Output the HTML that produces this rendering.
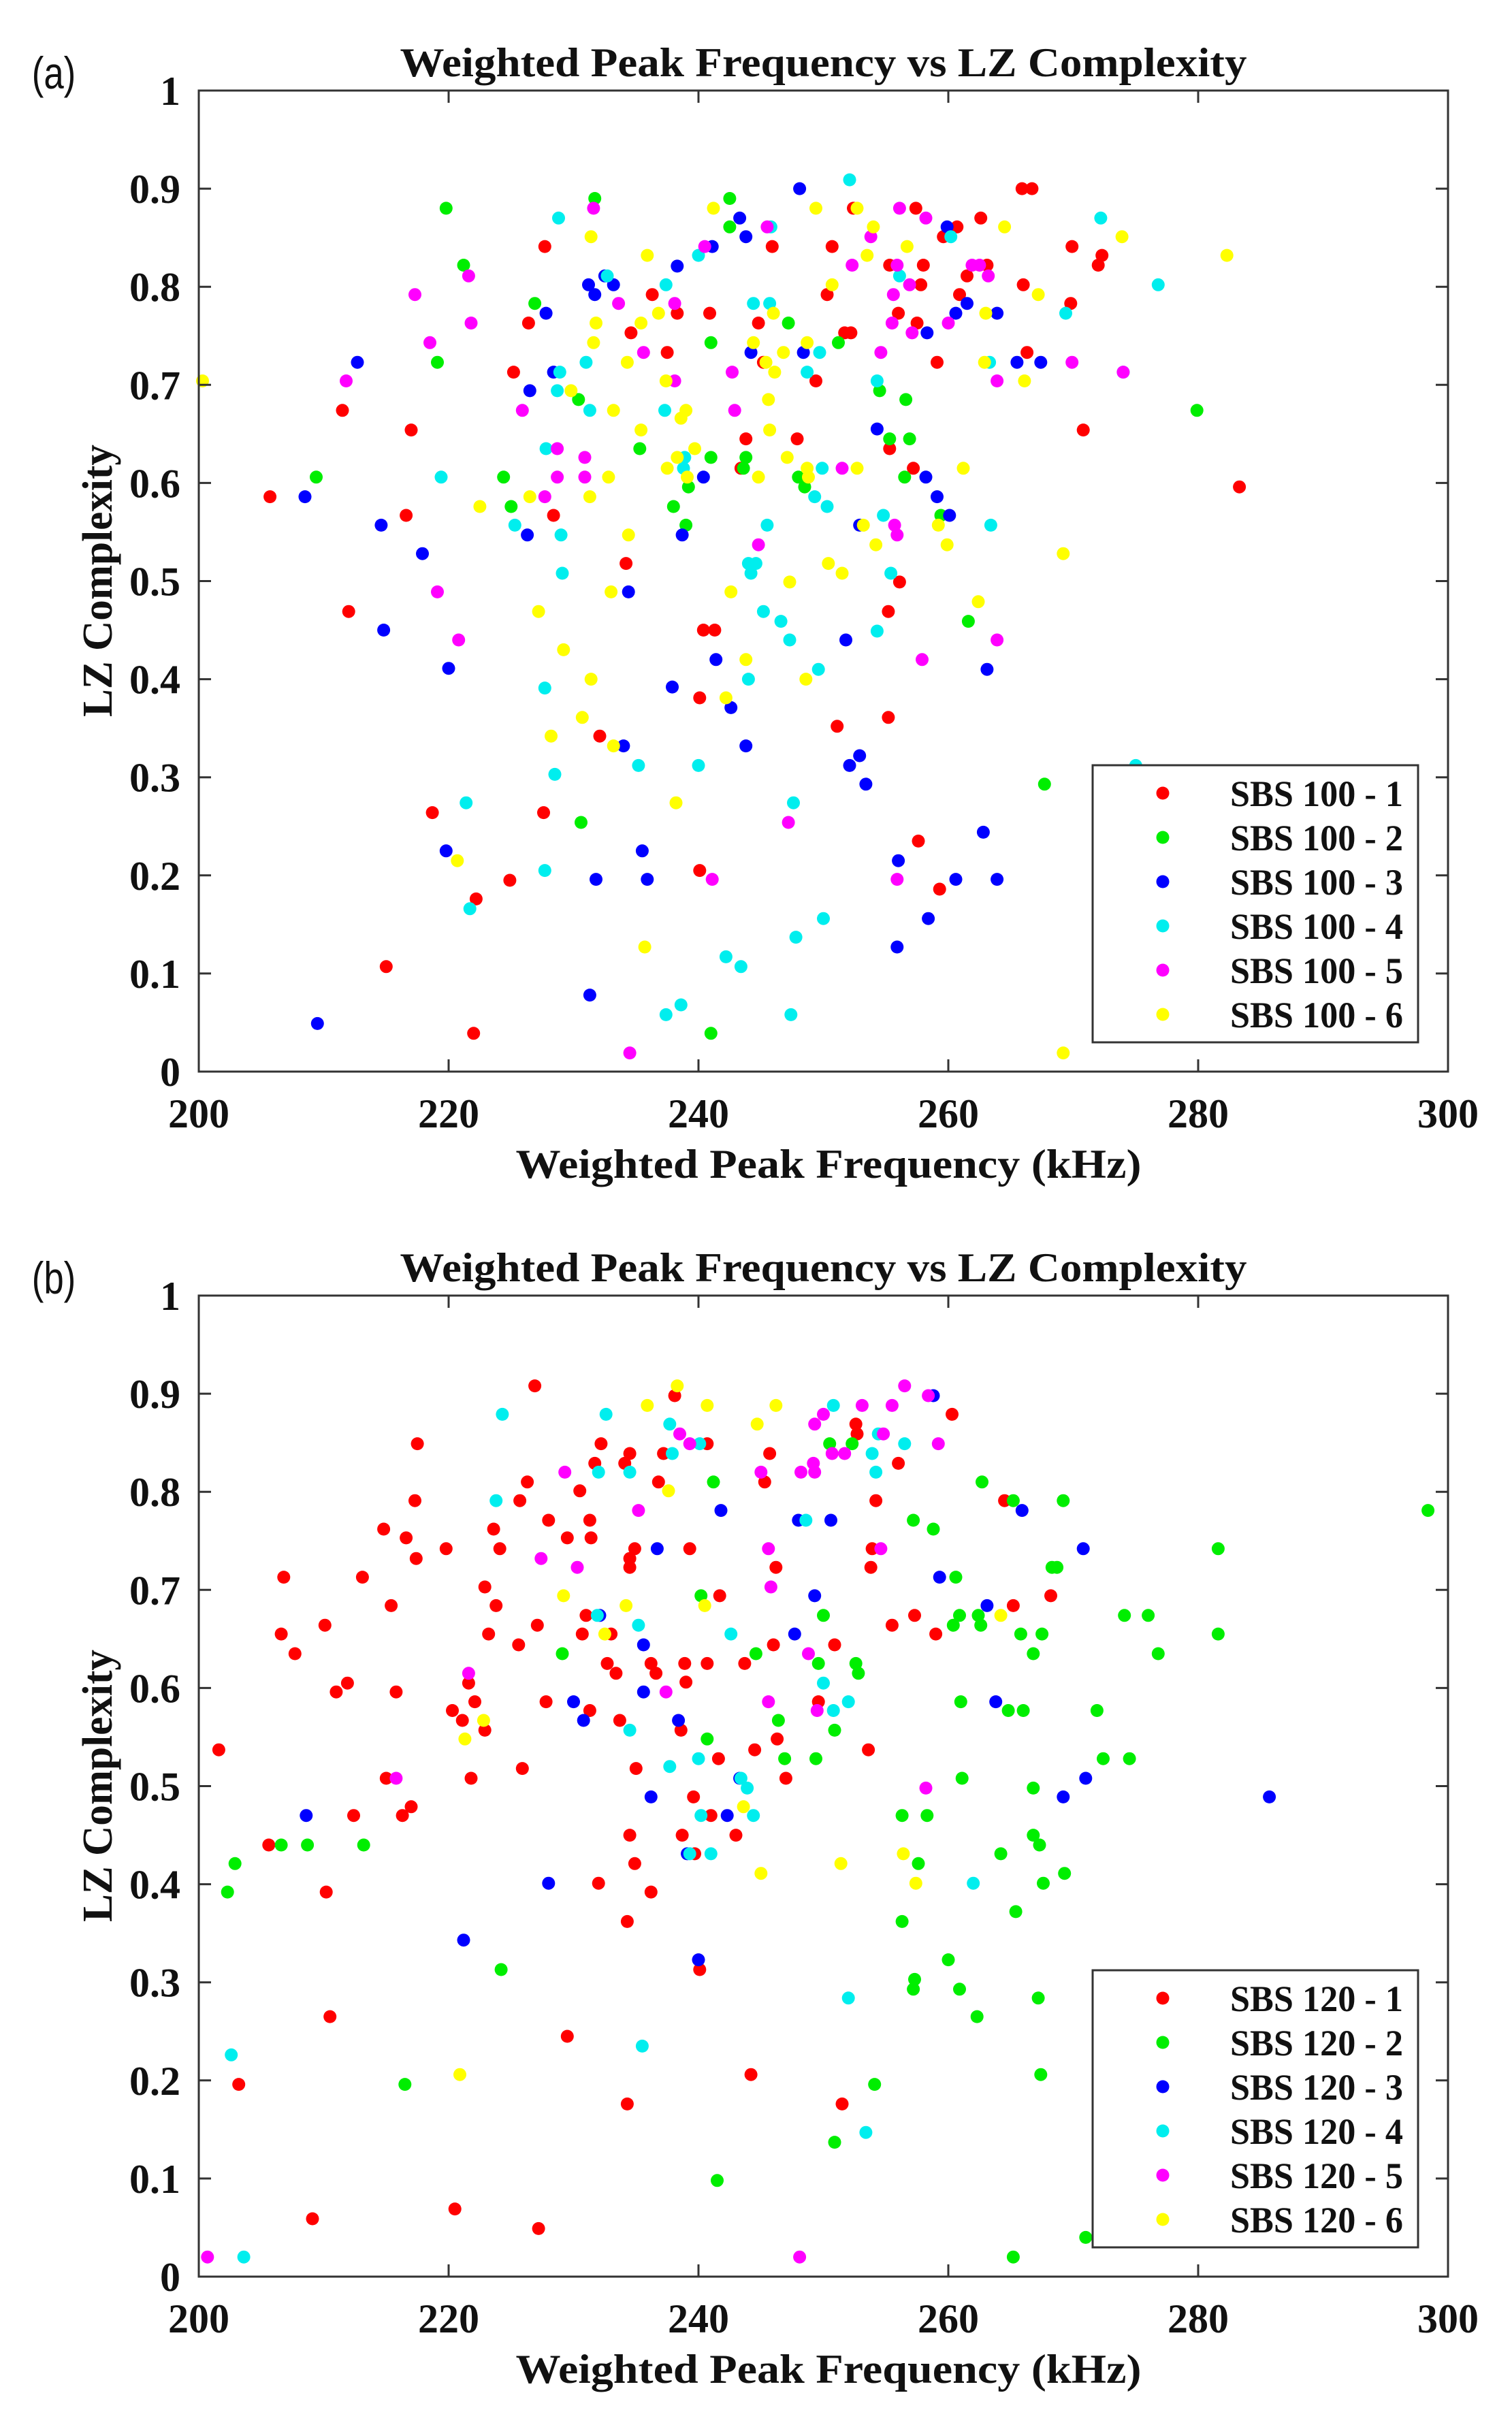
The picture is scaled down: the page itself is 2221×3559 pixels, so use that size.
<!DOCTYPE html>
<html><head><meta charset="utf-8"><style>
html,body{margin:0;padding:0;background:#fff;}
svg{display:block;}
text{font-family:"Liberation Serif",serif;font-weight:bold;fill:#111;}
</style></head><body>
<svg id="fig" width="2221" height="3559" viewBox="0 0 2221 3559" xmlns="http://www.w3.org/2000/svg"></svg>
<script>
// ---- Panel (a) data: SBS 100 series, [frequency kHz, LZ complexity]
const sbs100_1 = [[205.7,0.586],[211.5,0.674],[212,0.469],[216.6,0.567],[217,0.654],[215,0.107],[218.7,0.264],[222.2,0.176],[222,0.039],[224.9,0.195],[225.2,0.713],[226.4,0.763],[227.7,0.841],[227.6,0.264],[228.4,0.567],[232.1,0.342],[234.2,0.518],[234.6,0.753],[236.3,0.792],[237.5,0.733],[238.3,0.773],[240.1,0.381],[240.4,0.45],[241.3,0.45],[240.1,0.205],[240.9,0.773],[243.4,0.615],[243.8,0.645],[244.8,0.763],[245.2,0.723],[245.9,0.841],[247.9,0.645],[249.4,0.704],[250.3,0.792],[250.7,0.841],[251.1,0.352],[251.7,0.753],[252.2,0.753],[252.4,0.88],[255.3,0.635],[255.3,0.822],[255.2,0.469],[255.2,0.361],[256.1,0.499],[256,0.773],[257.2,0.615],[257.4,0.88],[257.5,0.763],[257.8,0.802],[258,0.822],[257.6,0.235],[259.1,0.723],[259.3,0.186],[259.6,0.851],[260.7,0.861],[260.9,0.792],[261.5,0.811],[262.6,0.87],[263.1,0.822],[265.9,0.9],[266.7,0.9],[266,0.802],[266.3,0.733],[269.9,0.841],[269.8,0.783],[270.8,0.654],[272,0.822],[272.3,0.832],[283.3,0.596]];
const sbs100_2 = [[209.4,0.606],[219.8,0.88],[219.1,0.723],[221.2,0.822],[224.4,0.606],[225,0.576],[226.9,0.783],[230.4,0.685],[230.6,0.254],[231.7,0.89],[235.3,0.635],[238,0.576],[239.2,0.596],[239,0.557],[241,0.743],[241,0.626],[241,0.039],[242.5,0.89],[242.5,0.861],[243.6,0.615],[243.8,0.626],[247.2,0.763],[248,0.606],[248.5,0.596],[251.2,0.743],[254.5,0.694],[255.3,0.645],[256.6,0.685],[256.9,0.645],[256.5,0.606],[259.4,0.567],[261.6,0.459],[267.7,0.293],[279.9,0.674]];
const sbs100_3 = [[208.5,0.586],[209.5,0.049],[212.7,0.723],[214.6,0.557],[214.8,0.45],[217.9,0.528],[220,0.411],[219.8,0.225],[226.3,0.547],[226.5,0.694],[227.8,0.773],[228.4,0.713],[231.2,0.802],[231.7,0.792],[232.5,0.811],[233.2,0.802],[231.8,0.196],[231.3,0.078],[234,0.332],[234.4,0.489],[235.5,0.225],[235.9,0.196],[238.3,0.821],[237.9,0.392],[238.7,0.547],[240.4,0.606],[241.1,0.841],[241.4,0.42],[242.6,0.371],[243.3,0.87],[243.8,0.851],[244.2,0.733],[243.8,0.332],[248.1,0.9],[248.4,0.733],[251.8,0.44],[252.1,0.312],[252.9,0.322],[253.4,0.293],[252.9,0.557],[254.3,0.655],[256,0.215],[255.9,0.127],[258.3,0.753],[258.2,0.606],[259.1,0.586],[260.1,0.567],[259.9,0.861],[260.6,0.773],[260.6,0.196],[261.5,0.783],[263.9,0.773],[263.1,0.41],[262.8,0.244],[263.9,0.196],[258.4,0.156],[265.5,0.723],[267.4,0.723]];
const sbs100_4 = [[219.4,0.606],[221.4,0.274],[221.7,0.166],[225.3,0.557],[227.7,0.205],[227.7,0.391],[227.8,0.635],[228.5,0.303],[228.8,0.87],[228.7,0.694],[228.9,0.713],[229,0.547],[229.1,0.508],[231,0.723],[231.3,0.674],[232.7,0.811],[235.2,0.312],[237.4,0.802],[237.3,0.674],[238.8,0.615],[238.9,0.626],[238.6,0.068],[237.4,0.058],[240,0.832],[240,0.312],[242.2,0.117],[243.4,0.107],[244,0.40],[244,0.518],[244.6,0.518],[244.2,0.508],[244.4,0.783],[245.7,0.783],[245.5,0.557],[245.8,0.861],[245.2,0.469],[246.6,0.459],[247.3,0.44],[247.6,0.274],[247.8,0.137],[247.4,0.058],[248.7,0.713],[249.3,0.586],[249.7,0.733],[249.9,0.615],[250.3,0.576],[249.6,0.41],[250,0.156],[252.1,0.909],[254.3,0.704],[254.3,0.449],[254.8,0.567],[255.4,0.508],[256.1,0.811],[260.2,0.851],[263.3,0.723],[263.4,0.557],[269.4,0.773],[272.2,0.87],[274,0.713],[275,0.312],[276.8,0.802]];
const sbs100_5 = [[211.8,0.704],[217.3,0.792],[218.5,0.743],[219.1,0.489],[220.8,0.44],[221.6,0.811],[221.8,0.763],[225.9,0.674],[227.7,0.586],[228.7,0.635],[228.7,0.606],[231.6,0.88],[230.9,0.626],[230.9,0.606],[233.6,0.783],[235.6,0.733],[238.1,0.783],[238.1,0.704],[240.5,0.841],[241.1,0.196],[242.7,0.713],[242.9,0.674],[244.8,0.537],[245.5,0.861],[247.2,0.254],[251.5,0.615],[252.3,0.822],[253.8,0.851],[254.6,0.733],[255.5,0.763],[255.6,0.792],[255.7,0.557],[255.9,0.547],[255.9,0.196],[256.1,0.88],[255.9,0.822],[256.9,0.802],[257.1,0.753],[257.9,0.42],[258.2,0.87],[260,0.763],[261.9,0.822],[262.5,0.822],[263.2,0.811],[263.9,0.704],[263.9,0.44],[269.9,0.723],[274,0.713],[234.5,0.019]];
const sbs100_6 = [[200.3,0.704],[222.5,0.576],[220.7,0.215],[226.5,0.586],[227.2,0.469],[228.2,0.342],[229.2,0.43],[229.8,0.694],[231.4,0.40],[230.7,0.361],[231.3,0.586],[231.4,0.851],[231.8,0.763],[231.6,0.743],[232.8,0.606],[233,0.489],[233.2,0.332],[233.2,0.674],[234.3,0.723],[234.4,0.547],[235.4,0.763],[235.4,0.654],[235.9,0.832],[235.7,0.127],[236.8,0.773],[237.5,0.615],[237.4,0.704],[238.3,0.626],[238.2,0.274],[238.6,0.666],[239,0.674],[239.1,0.606],[239.7,0.635],[241.2,0.88],[242.6,0.489],[242.2,0.381],[243.8,0.42],[244.4,0.743],[244.8,0.606],[245.4,0.723],[245.6,0.685],[245.7,0.654],[246,0.773],[246.1,0.713],[246.8,0.733],[247.1,0.626],[247.3,0.499],[248.6,0.40],[248.7,0.743],[248.7,0.615],[248.8,0.606],[249.4,0.88],[250.4,0.518],[250.7,0.802],[251.5,0.508],[252.7,0.88],[252.7,0.615],[253.2,0.557],[253.5,0.832],[254,0.861],[254.2,0.537],[256.7,0.841],[259.2,0.557],[259.9,0.537],[261.2,0.615],[262.4,0.479],[263,0.773],[262.9,0.723],[264.5,0.861],[266.1,0.704],[267.2,0.792],[269.2,0.528],[269.2,0.019],[273.9,0.851],[282.3,0.832]];
// ---- Panel (b) data: SBS 120 series
const sbs120_1 = [[201.6,0.537],[203.2,0.196],[205.6,0.44],[206.6,0.655],[206.8,0.713],[207.7,0.635],[209.1,0.059],[210.1,0.664],[210.2,0.392],[210.5,0.265],[211,0.596],[211.9,0.605],[212.4,0.47],[213.1,0.713],[214.8,0.762],[215,0.508],[215.4,0.684],[215.8,0.596],[216.3,0.47],[216.6,0.753],[217,0.479],[217.3,0.791],[217.4,0.732],[217.5,0.849],[219.8,0.742],[220.3,0.577],[220.5,0.069],[221.1,0.567],[221.6,0.605],[221.8,0.508],[222.1,0.586],[222.9,0.703],[222.9,0.557],[223.2,0.655],[223.6,0.762],[223.8,0.684],[224.1,0.742],[225.6,0.644],[225.7,0.791],[225.9,0.518],[226.3,0.81],[226.9,0.908],[227.1,0.664],[227.2,0.049],[227.8,0.586],[228,0.771],[229.5,0.245],[229.5,0.753],[230.5,0.801],[230.7,0.655],[231,0.674],[231.3,0.771],[231.4,0.753],[231.3,0.577],[231.7,0.829],[232,0.401],[232.2,0.849],[232.7,0.625],[233,0.655],[233.4,0.615],[233.7,0.567],[234.3,0.176],[234.3,0.362],[234.1,0.829],[234.5,0.839],[234.5,0.732],[234.5,0.723],[234.5,0.45],[234.9,0.742],[235,0.518],[234.9,0.421],[236.2,0.392],[236.2,0.625],[236.6,0.615],[236.8,0.81],[237.2,0.839],[238.1,0.898],[238.6,0.557],[238.7,0.45],[238.9,0.625],[239,0.606],[239.3,0.742],[239.6,0.489],[239.7,0.431],[240.1,0.313],[240.7,0.849],[240.7,0.625],[241,0.47],[241.6,0.528],[241.7,0.694],[243,0.45],[243.7,0.625],[244.2,0.206],[244.5,0.537],[245.7,0.839],[245.3,0.81],[246,0.644],[246.2,0.723],[246.3,0.548],[247,0.508],[249.6,0.586],[250.9,0.644],[251.5,0.176],[252.6,0.869],[252.7,0.859],[253.6,0.537],[253.8,0.723],[253.9,0.742],[254.2,0.791],[255.5,0.664],[256,0.829],[257.3,0.674],[259,0.655],[260.3,0.879],[264.5,0.791],[265.2,0.684],[268.2,0.694]];
const sbs120_2 = [[202.3,0.392],[202.9,0.421],[206.6,0.44],[208.7,0.44],[213.2,0.44],[216.5,0.196],[224.2,0.313],[229.1,0.635],[240.2,0.694],[240.7,0.548],[241.2,0.81],[241.5,0.098],[244.6,0.635],[246.4,0.567],[246.9,0.528],[249.4,0.528],[249.6,0.625],[250,0.674],[250.5,0.849],[250.9,0.557],[250.9,0.137],[252.3,0.849],[252.6,0.625],[252.8,0.615],[254.1,0.196],[256.3,0.47],[256.3,0.362],[257.2,0.771],[257.3,0.303],[257.2,0.293],[257.6,0.421],[258.3,0.47],[258.8,0.762],[260,0.323],[260.4,0.664],[260.6,0.713],[260.9,0.674],[261,0.586],[261.1,0.508],[260.9,0.293],[262.3,0.265],[262.4,0.674],[262.6,0.664],[262.7,0.81],[264.2,0.431],[264.8,0.577],[265.2,0.791],[265.2,0.02],[265.4,0.372],[265.8,0.655],[266,0.577],[266.8,0.635],[266.8,0.45],[266.8,0.498],[267.2,0.284],[267.3,0.44],[267.4,0.206],[267.5,0.655],[267.6,0.401],[268.3,0.723],[268.7,0.723],[269.2,0.791],[269.3,0.411],[271,0.04],[271.9,0.577],[272.4,0.528],[274.1,0.674],[274.5,0.528],[276,0.674],[276.8,0.635],[281.6,0.742],[281.6,0.655],[298.4,0.781]];
const sbs120_3 = [[208.6,0.47],[221.2,0.343],[228,0.401],[230,0.586],[230.8,0.567],[232.1,0.674],[235.6,0.596],[235.6,0.644],[236.2,0.489],[236.7,0.742],[238.4,0.567],[239.1,0.431],[240,0.323],[241.8,0.781],[242.3,0.47],[243.3,0.508],[247.7,0.655],[248,0.771],[249.3,0.694],[250.6,0.771],[258.8,0.898],[259.3,0.713],[263.1,0.684],[263.8,0.586],[265.9,0.781],[269.2,0.489],[271,0.508],[270.8,0.742],[285.7,0.489]];
const sbs120_4 = [[202.6,0.226],[203.6,0.02],[224.3,0.879],[223.8,0.791],[232,0.82],[231.9,0.674],[232.6,0.879],[234.5,0.82],[234.5,0.557],[235.2,0.664],[235.5,0.235],[237.7,0.869],[237.7,0.52],[237.9,0.839],[239.3,0.431],[240,0.528],[240.1,0.849],[240.2,0.47],[241,0.431],[242.6,0.655],[243.4,0.508],[243.9,0.498],[244.4,0.47],[248.6,0.771],[250,0.605],[250.8,0.888],[250.8,0.577],[252,0.586],[252,0.284],[253.4,0.147],[253.9,0.839],[254.2,0.82],[254.4,0.859],[256.5,0.849],[262,0.401]];
const sbs120_5 = [[200.7,0.02],[215.8,0.508],[221.6,0.615],[227.4,0.732],[229.3,0.82],[230.3,0.723],[235.2,0.781],[237.4,0.596],[238.5,0.859],[239.3,0.849],[245,0.82],[245.6,0.742],[245.8,0.703],[245.6,0.586],[248.1,0.02],[248.2,0.82],[248.8,0.635],[249.2,0.829],[249.3,0.869],[249.3,0.82],[249.5,0.577],[250,0.879],[250.7,0.839],[251.7,0.839],[253.1,0.888],[254.8,0.859],[254.6,0.742],[255.5,0.888],[256.5,0.908],[258.2,0.498],[258.4,0.898],[259.2,0.849]];
const sbs120_6 = [[220.9,0.206],[221.3,0.548],[222.8,0.567],[229.2,0.694],[232.5,0.655],[234.2,0.684],[235.9,0.888],[237.6,0.801],[238.3,0.908],[240.5,0.684],[240.7,0.888],[243.6,0.479],[244.7,0.869],[245,0.411],[246.2,0.888],[251.4,0.421],[256.4,0.431],[257.4,0.401],[264.2,0.674]];

const xTicks = [200,220,240,260,280,300];
const yTicks = [0,0.1,0.2,0.3,0.4,0.5,0.6,0.7,0.8,0.9,1];
const yTickLabels = ["0","0.1","0.2","0.3","0.4","0.5","0.6","0.7","0.8","0.9","1"];
const colors = ["#ff0000","#00ee00","#0000ff","#00eeee","#ff00ff","#ffff00"];
const seriesA = [sbs100_1,sbs100_2,sbs100_3,sbs100_4,sbs100_5,sbs100_6];
const seriesB = [sbs120_1,sbs120_2,sbs120_3,sbs120_4,sbs120_5,sbs120_6];
const labelsA = ["SBS 100 - 1","SBS 100 - 2","SBS 100 - 3","SBS 100 - 4","SBS 100 - 5","SBS 100 - 6"];
const labelsB = ["SBS 120 - 1","SBS 120 - 2","SBS 120 - 3","SBS 120 - 4","SBS 120 - 5","SBS 120 - 6"];

const NS = "http://www.w3.org/2000/svg";
const svg = document.getElementById('fig');
function mk(tag, attrs, parent){ const e=document.createElementNS(NS,tag); for(const k in attrs) e.setAttribute(k,attrs[k]); (parent||svg).appendChild(e); return e; }

function panel(off, letter, series, labels, key){
  const L=292, R=2127, T=133+off, B=1574+off;
  const xs = v => L + (v-200)/100*(R-L);
  const ys = v => B - v*(B-T);
  const g = mk('g',{});
  
  
  const pl = mk('text',{x:79,y:106+off+24,'font-size':66,'text-anchor':'middle',style:'font-family:"Liberation Sans Narrow","Liberation Sans",sans-serif;font-weight:normal;',transform:`translate(79 0) scale(0.8 1) translate(-79 0)`},g);
  pl.textContent='('+letter+')';
  
  
  const t = mk('text',{x:(L+R)/2,y:92+off+20,'font-size':60,'text-anchor':'middle',textLength:1244,lengthAdjust:'spacingAndGlyphs'},g);
  t.textContent='Weighted Peak Frequency vs LZ Complexity';
  
  
  const pg = mk('g',{},g);
  series.forEach((s,i)=>{
    s.forEach(p=>{
      const c = mk('circle',{cx:xs(p[0]).toFixed(1),cy:ys(p[1]).toFixed(1),r:9.5,fill:colors[i]},pg);
      
      
    });
  });
  const box = mk('rect',{x:L,y:T,width:R-L,height:B-T,fill:'none',stroke:'#333',"stroke-width":3},g);
  
  
  xTicks.forEach(v=>{
    const x=xs(v);
    mk('line',{x1:x,y1:B,x2:x,y2:B-18,stroke:'#333','stroke-width':3},g);
    mk('line',{x1:x,y1:T,x2:x,y2:T+18,stroke:'#333','stroke-width':3},g);
    const tl = mk('text',{x:x,y:B+82,'font-size':60,'text-anchor':'middle'},g);
    tl.textContent=String(v);
    
    
  });
  yTicks.forEach((v,i)=>{
    const y=ys(v);
    mk('line',{x1:L,y1:y,x2:L+18,y2:y,stroke:'#333','stroke-width':3},g);
    mk('line',{x1:R,y1:y,x2:R-18,y2:y,stroke:'#333','stroke-width':3},g);
    const tl = mk('text',{x:265,y:y+21,'font-size':60,'text-anchor':'end'},g);
    tl.textContent=yTickLabels[i];
    
    
  });
  const xl = mk('text',{x:1217,y:1709+off+21,'font-size':60,'text-anchor':'middle',textLength:919,lengthAdjust:'spacingAndGlyphs'},g);
  xl.textContent='Weighted Peak Frequency (kHz)';
  
  
  const yl = mk('text',{x:0,y:0,'font-size':62,'text-anchor':'middle',textLength:400,lengthAdjust:'spacingAndGlyphs',transform:`translate(164 ${853+off}) rotate(-90)`},g);
  yl.textContent='LZ Complexity';
  
  
  const lg = mk('g',{},g);
  
  
  mk('rect',{x:1605,y:1124+off,width:478,height:407,fill:'#fff',stroke:'#333','stroke-width':3},lg);
  labels.forEach((lab,i)=>{
    const cy = 1165+off+i*65;
    const e = mk('g',{},lg);
    
    
    mk('circle',{cx:1708,cy:cy,r:9.5,fill:colors[i]},e);
    const tx = mk('text',{x:1807,y:cy+19,'font-size':54,textLength:254,lengthAdjust:'spacingAndGlyphs'},e);
    tx.textContent=lab;
  });
}
panel(0,'a',seriesA,labelsA,'a');
panel(1770,'b',seriesB,labelsB,'b');
</script>
</body></html>
